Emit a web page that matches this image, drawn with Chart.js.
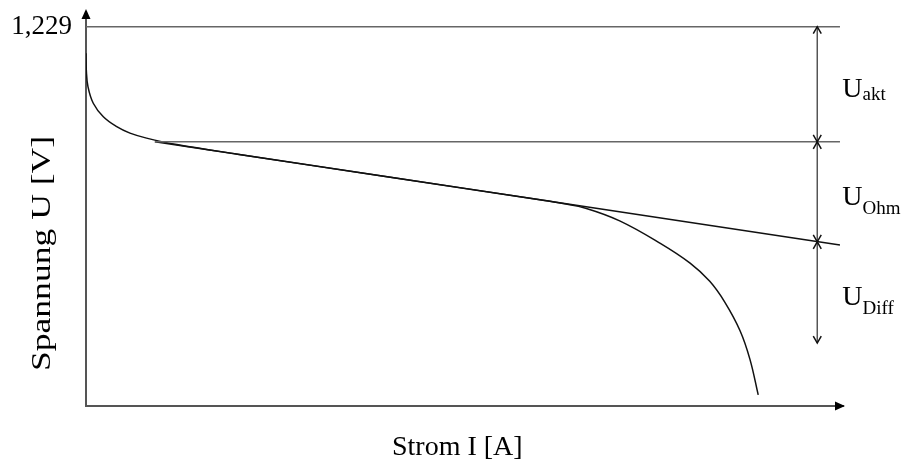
<!DOCTYPE html>
<html>
<head>
<meta charset="utf-8">
<script src="https://cdn.jsdelivr.net/npm/chart.js@4"></script>
<style>
html,body{margin:0;padding:0;background:#fff;}
#wrap{width:906px;height:459px;position:relative;}
</style>
</head>
<body>
<div id="wrap"><canvas id="c" width="906" height="459"></canvas></div>
<script>
// ---- data ----
const U0 = 1.229;                       // open-circuit voltage (tick label)
const yTickLabels = ['1,229'];
const curveI = [0, 0.04, 0.26, 0.96, 2.29, 4.06, 5.81, 8.0, 12, 20, 40, 60, 63, 66, 70.5, 75.8, 79.8, 82.4, 84.4, 86.4, 87.7, 88.8];
const curveU = [1.143, 1.089, 1.035, 0.981, 0.937, 0.905, 0.884, 0.868, 0.847, 0.816, 0.742, 0.668, 0.656, 0.641, 0.600, 0.528, 0.463, 0.404, 0.336, 0.244, 0.152, 0.036];
const ohmI = [9.1, 99.6];
const ohmU = [0.856, 0.522];
const topLineI = [0, 99.6];
const topLineU = [U0, U0];
const kneeLineI = [9.1, 99.6];
const kneeLineU = [0.856, 0.856];
const dimI = 96.6;
const dimLevels = [1.229, 0.856, 0.532, 0.204];   // bounds of U_akt, U_Ohm, U_Diff
const dimLabels = ['akt', 'Ohm', 'Diff'];
const xTitle = 'Strom I [A]';
const yTitle = 'Spannung U [V]';

const pts = (xs, ys) => xs.map((x, i) => ({x: x, y: ys[i]}));
const SERIF = "'Liberation Serif', 'Times New Roman', serif";

const decor = {
  id: 'decor',
  afterDatasetsDraw(chart) {
    const {ctx, chartArea: a, scales: {x, y}} = chart;
    ctx.save();
    // axis arrowheads (filled)
    ctx.fillStyle = '#000';
    ctx.beginPath();
    ctx.moveTo(a.left, a.top - 3);
    ctx.lineTo(a.left - 4.5, a.top + 7);
    ctx.lineTo(a.left + 4.5, a.top + 7);
    ctx.closePath(); ctx.fill();
    ctx.beginPath();
    ctx.moveTo(a.right + 2, a.bottom);
    ctx.lineTo(a.right - 8, a.bottom - 4.5);
    ctx.lineTo(a.right - 8, a.bottom + 4.5);
    ctx.closePath(); ctx.fill();

    // dimension arrows
    const px = x.getPixelForValue(dimI);
    ctx.lineWidth = 1.5;
    const head = (tipY, dir) => { // dir = -1 pointing up, +1 pointing down
      ctx.beginPath();
      ctx.moveTo(px - 4, tipY - dir * 7);
      ctx.lineTo(px, tipY);
      ctx.lineTo(px + 4, tipY - dir * 7);
      ctx.stroke();
    };
    for (let i = 0; i < dimLevels.length - 1; i++) {
      const y1 = y.getPixelForValue(dimLevels[i]);
      const y2 = y.getPixelForValue(dimLevels[i + 1]);
      ctx.strokeStyle = '#555';
      ctx.beginPath();
      ctx.moveTo(px, y1); ctx.lineTo(px, y2); ctx.stroke();
      ctx.strokeStyle = '#111';
      head(y1, -1);
      head(y2, 1);
    }
    // labels U_xxx
    ctx.fillStyle = '#000';
    ctx.textAlign = 'left';
    ctx.textBaseline = 'alphabetic';
    const subDrop = [3, 9, 9];
    for (let i = 0; i < dimLabels.length; i++) {
      const y1 = y.getPixelForValue(dimLevels[i]);
      const y2 = y.getPixelForValue(dimLevels[i + 1]);
      const base = (y1 + y2) / 2 + 13;
      ctx.font = '28px ' + SERIF;
      ctx.fillText('U', px + 25, base);
      const w = ctx.measureText('U').width;
      ctx.font = '19px ' + SERIF;
      ctx.fillText(dimLabels[i], px + 25 + w, base + subDrop[i]);
    }
    // axis titles
    ctx.font = '28px ' + SERIF;
    ctx.textAlign = 'left';
    ctx.fillText(xTitle, 392, 455);
    ctx.save();
    ctx.translate(50, 371);
    ctx.rotate(-Math.PI / 2);
    ctx.scale(1.27, 1);
    ctx.font = '28px ' + SERIF;
    ctx.fillText(yTitle, 0, 0);
    ctx.restore();
    ctx.restore();
  }
};

const lineDs = (data, color, extra) => Object.assign({
  data: data, borderColor: color, borderWidth: 1.5, pointRadius: 0,
  showLine: true, fill: false
}, extra || {});

new Chart(document.getElementById('c'), {
  type: 'scatter',
  data: {
    datasets: [
      lineDs(pts(topLineI, topLineU), '#666'),
      lineDs(pts(kneeLineI, kneeLineU), '#666'),
      lineDs(pts(ohmI, ohmU), '#111'),
      lineDs(pts(curveI, curveU), '#111', {tension: 0.4})
    ]
  },
  options: {
    responsive: false,
    animation: false,
    events: [],
    layout: {padding: {left: 0, right: 63, top: 12, bottom: 0}},
    plugins: {legend: {display: false}, tooltip: {enabled: false}, title: {display: false}},
    scales: {
      x: {
        type: 'linear', min: 0, max: 100,
        grid: {display: false, drawTicks: false},
        border: {display: true, color: '#555', width: 2},
        ticks: {display: false},
        afterFit: s => { s.height = 53; s.paddingLeft = 0; s.paddingRight = 0; }
      },
      y: {
        type: 'linear', min: 0, max: 1.2766,
        grid: {display: false, drawTicks: false, tickLength: 0},
        border: {display: true, color: '#555', width: 2},
        afterBuildTicks: s => { s.ticks = [{value: U0}]; },
        ticks: {
          padding: 14, color: '#000',
          font: {family: SERIF, size: 27},
          callback: () => yTickLabels[0]
        },
        afterFit: s => { s.width = 86; s.paddingTop = 0; s.paddingBottom = 0; }
      }
    }
  },
  plugins: [decor]
});
</script>
</body>
</html>
